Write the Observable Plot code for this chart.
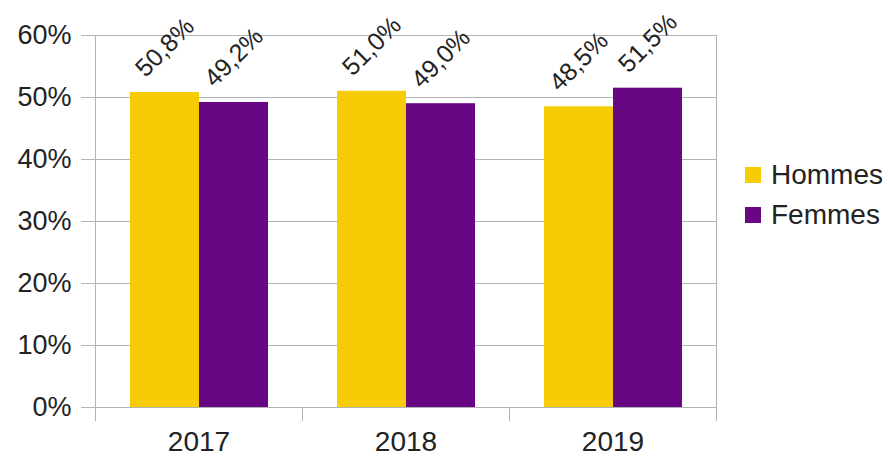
<!DOCTYPE html>
<html>
<head>
<meta charset="utf-8">
<script src="https://cdn.jsdelivr.net/npm/d3@7"></script>
<script src="https://cdn.jsdelivr.net/npm/@observablehq/plot@0.6"></script>
<style>
  html, body { margin: 0; padding: 0; background: #fff; }
  #chart { position: relative; width: 888px; height: 457px; font-family: "Liberation Sans", Arial, sans-serif; }
  #legend { position: absolute; left: 745px; top: 155px; color: #222; font-size: 28px; }
  .item { display: flex; align-items: center; height: 40px; }
  .sw { width: 16px; height: 16px; margin-right: 10px; }
</style>
</head>
<body>
<div id="chart"></div>
<script>
const years = ["2017", "2018", "2019"];
const sexes = ["Hommes", "Femmes"];
const hommes = [50.8, 51.0, 48.5];
const femmes = [49.2, 49.0, 51.5];
const yTicks = [0, 10, 20, 30, 40, 50, 60];
const colors = ["#f6cc07", "#690684"];

const grey = "#b3b3b3";
const ink = "#222";
const W = 888, H = 457, mL = 95, mR = 172, mT = 35, mB = 50;
const innerH = H - mT - mB;

const data = [];
years.forEach((y, i) => {
  data.push({year: y, sex: sexes[0], value: hommes[i]});
  data.push({year: y, sex: sexes[1], value: femmes[i]});
});
const fmt = v => v.toFixed(1).replace(".", ",") + "%";

const plot = Plot.plot({
  width: W, height: H,
  marginLeft: mL, marginRight: mR, marginTop: mT, marginBottom: mB,
  style: {fontFamily: "'Liberation Sans', Arial, sans-serif", background: "#fff", overflow: "visible"},
  fx: {domain: years, padding: 0, label: null},
  x: {domain: sexes, paddingInner: 0, paddingOuter: 0.5, axis: null},
  y: {domain: [0, 60], label: null},
  color: {domain: sexes, range: colors},
  marks: [
    Plot.gridY({ticks: yTicks, stroke: grey, strokeOpacity: 1}),
    Plot.frame({anchor: "left", stroke: grey, strokeOpacity: 1, insetTop: innerH, insetBottom: -13}),
    Plot.frame({anchor: "right", stroke: grey, strokeOpacity: 1, insetTop: innerH, insetBottom: -13}),
    Plot.frame({facet: "super", anchor: "left", stroke: grey, strokeOpacity: 1, insetBottom: -13}),
    Plot.frame({facet: "super", anchor: "right", stroke: grey, strokeOpacity: 1, insetBottom: -13}),
    Plot.axisY({ticks: yTicks, tickFormat: d => d + "%", tickSize: 14, tickPadding: 10,
      fontSize: 27, stroke: grey, strokeOpacity: 1, fill: ink, label: null}),
    Plot.axisFx({anchor: "bottom", tickSize: 0, tickPadding: 24, fontSize: 28, fill: ink, label: null}),
    Plot.barY(data, {fx: "year", x: "sex", y: "value", fill: "sex"}),
    Plot.text(data, {fx: "year", x: "sex", y: "value", text: d => fmt(d.value),
      rotate: -45, textAnchor: "middle", lineAnchor: "middle", dy: -45,
      fontSize: 25, fill: ink})
  ]
});
const chart = document.getElementById("chart");
chart.appendChild(plot);

const legend = document.createElement("div");
legend.id = "legend";
sexes.forEach((s, i) => {
  const item = document.createElement("div");
  item.className = "item";
  const sw = document.createElement("span");
  sw.className = "sw";
  sw.style.background = colors[i];
  const t = document.createElement("span");
  t.textContent = s;
  item.appendChild(sw);
  item.appendChild(t);
  legend.appendChild(item);
});
chart.appendChild(legend);
</script>
</body>
</html>
